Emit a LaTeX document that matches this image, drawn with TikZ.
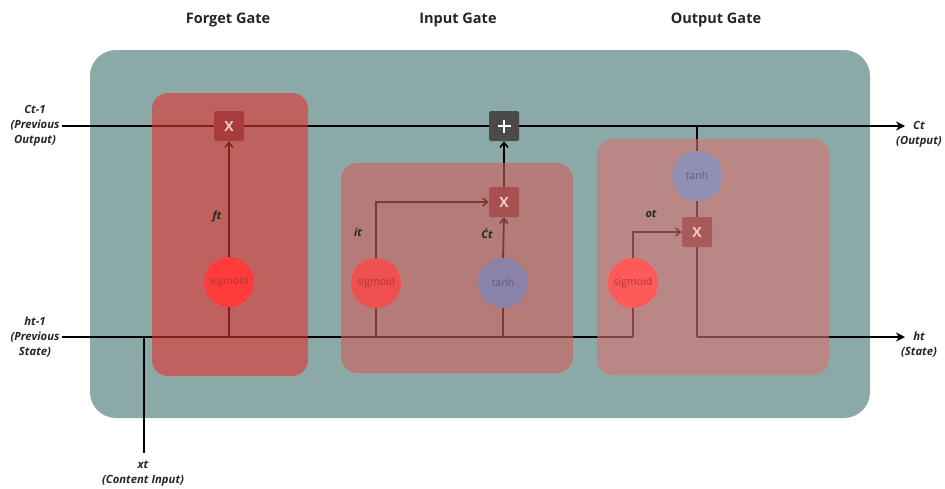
\documentclass[tikz,border=0pt]{standalone}
\usepackage{fontspec}
\setmainfont{Open Sans}
\usetikzlibrary{arrows.meta,calc}
\definecolor{teal0}{HTML}{8BAAA7}
\definecolor{fgbox}{HTML}{E3322F}
\definecolor{inbox}{HTML}{D15C59}
\definecolor{outbox}{HTML}{D97170}
\definecolor{sigA}{HTML}{FF3B3B}
\definecolor{sigB}{HTML}{F05050}
\definecolor{sigC}{HTML}{FF5A5A}
\definecolor{tanhA}{HTML}{8A82A8}
\definecolor{tanhB}{HTML}{9090B5}
\definecolor{mulA}{HTML}{A83C3C}
\definecolor{mulB}{HTML}{A65050}
\definecolor{mulC}{HTML}{A85B5A}
\definecolor{plusc}{HTML}{4A4A4A}
\definecolor{xtxt}{HTML}{F6CACA}
\definecolor{sigtxt}{HTML}{B03434}
\definecolor{tanhtxt}{HTML}{655A80}
\begin{document}
\begin{tikzpicture}[x=1pt,y=-1pt,
  wire/.style={line width=1.8pt,draw=black},
  inarr/.style={wire,-{Straight Barb[length=5pt,width=8pt,line width=1.6pt]}},
  outarr/.style={wire,-{Stealth[length=9pt,width=9pt]}},
  gatebox/.style={rounded corners=16pt,opacity=0.6},
  circ/.style={circle,minimum size=50pt,inner sep=0pt,font=\fontsize{10.5}{11}\selectfont},
  mulbox/.style={rectangle,minimum size=30pt,inner sep=0pt,rounded corners=1.5pt,font=\bfseries\fontsize{14}{14}\selectfont,text=xtxt},
  title/.style={font=\bfseries\fontsize{14.5}{16}\selectfont,text=black!85},
  lab/.style={font=\bfseries\itshape\fontsize{11.3}{15}\selectfont,align=center,text=black!85,inner sep=1pt},
  sym/.style={font=\bfseries\itshape\fontsize{11}{12}\selectfont,text=black!85}
]
\useasboundingbox (0,0) rectangle (945,488);
% background panel
\fill[teal0,rounded corners=26pt] (90,50) rectangle (870,418);

% titles
\node[title] (tf) at (228,20) {Forget Gate};
\node[title] (ti) at (458,20) {Input Gate};
\node[title] (to) at (716,20) {Output Gate};

% endpoint labels
\node[lab] (cin) at (35,126) {Ct-1\\(Previous\\Output)};
\node[lab] (hin) at (35,337) {ht-1\\(Previous\\State)};
\node[lab] (cout) at (919,134) {Ct\\(Output)};
\node[lab] (hout) at (919,345) {ht\\(State)};
\node[lab] (xin) at (143,474) {xt\\(Content Input)};

% endpoints and bends
\coordinate (c0) at (62,126);
\coordinate (h0) at (62,337);
\coordinate (cend) at (905,126);
\coordinate (hend) at (905,337);
\coordinate (x0) at (144,453);
\coordinate (xj) at (144,337);
\coordinate (fj) at (229,337);
\coordinate (ij) at (376,337);
\coordinate (tj) at (503,337);
\coordinate (oj) at (633,337);
\coordinate (ctap) at (697,126);
\coordinate (hbend) at (697,337);

% operator nodes
\node[mulbox] (fx) at (229,126) {};
\node[mulbox] (pl) at (504,126) {};
\node[mulbox] (ix) at (504,202) {};
\node[mulbox] (ox) at (697,232) {};
\node[circ] (fs) at (229,282) {};
\node[circ] (is) at (376,283) {};
\node[circ] (it) at (503,283) {};
\node[circ] (os) at (633,283) {};
\node[circ] (ot) at (697,176) {};

% wires (under the gate boxes)
\path[wire] (c0) -- (fx.west);
\path[wire] (fx.east) -- (pl.west);
\path[outarr] (pl.east) -- (cend);
\path[wire] (h0) -- (oj);
\path[wire] (xj) -- (x0);
\path[wire] (fj) -- (fs.south);
\path[inarr] (fs.north) -- (fx.south);
\path[wire] (ij) -- (is.south);
\path[inarr] (is.north) |- (ix.west);
\path[wire] (tj) -- (it.south);
\path[inarr] (it.north) -- (ix.south);
\path[inarr] (ix.north) -- (pl.south);
\path[wire] (oj) -- (os.south);
\path[inarr] (os.north) |- (ox.west);
\path[wire] (ctap) -- (ot.north);
\path[wire] (ot.south) -- (ox.north);
\path[wire] (ox.south) -- (hbend);
\path[outarr] (hbend) -- (hend);

% translucent gate boxes
\fill[fgbox,gatebox] (152,93) rectangle (308,376);
\fill[inbox,gatebox] (341,163) rectangle (573,373);
\fill[outbox,gatebox] (597,139) rectangle (829,375);

% operators drawn on top
\node[mulbox,fill=mulA] at (fx) {X};
\node[mulbox,fill=plusc] at (pl) {};
\draw[white,line width=2.6pt] ($(pl)+(-6.5,0)$) -- ($(pl)+(6.5,0)$)
  ($(pl)+(0,-6.5)$) -- ($(pl)+(0,6.5)$);
\node[mulbox,fill=mulB] at (ix) {X};
\node[mulbox,fill=mulC] at (ox) {X};
\node[circ,fill=sigA,text=sigtxt] at (fs) {sigmoid};
\node[circ,fill=sigB,text=sigtxt] at (is) {sigmoid};
\node[circ,fill=tanhA,text=tanhtxt] at (it) {tanh};
\node[circ,fill=sigC,text=sigtxt] at (os) {sigmoid};
\node[circ,fill=tanhB,text=tanhtxt] at (ot) {tanh};

% symbol labels
\node[sym] (lf) at (217,217) {ft};
\node[sym] (li) at (358,232) {it};
\node[sym] (lc) at (487,233) {Ċt};
\node[sym] (lo) at (651,214) {ot};
\end{tikzpicture}
\end{document}
